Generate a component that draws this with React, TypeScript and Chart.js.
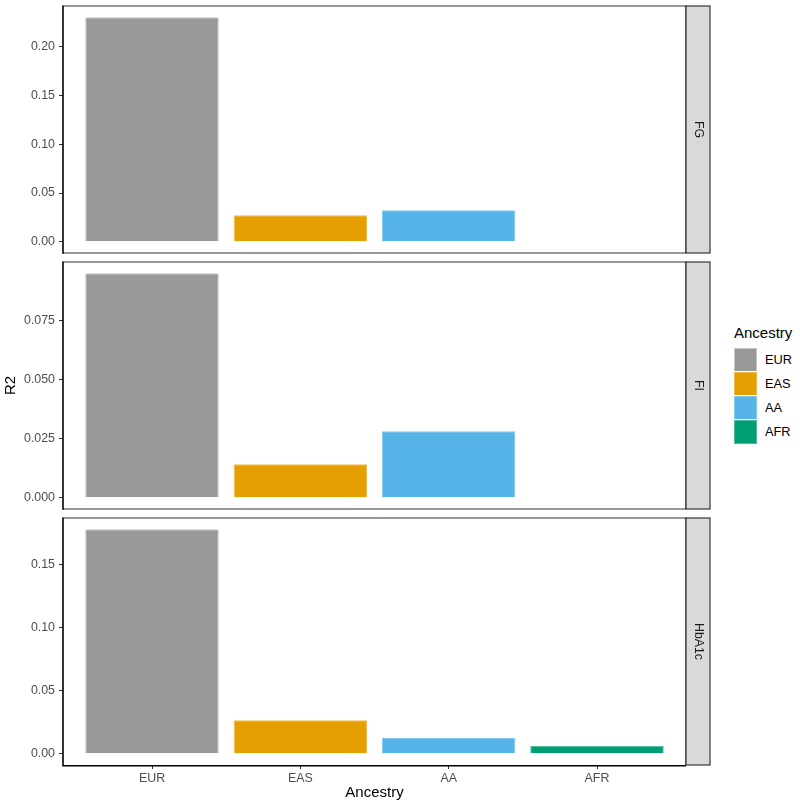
import React, { useEffect, useRef } from 'react';
import { Chart, registerables } from 'chart.js';

Chart.register(...registerables);

// ---- data ----
const CATEGORIES = ['EUR', 'EAS', 'AA', 'AFR'];
const FILL_COLORS = ['#999999', '#E69F00', '#56B4E9', '#009E73'];
const EDGE_COLORS = ['#C4C4C4', '#EEBB4D', '#86C9EF', '#4DBB9D'];

const FG_VALUES = [0.2302, 0.0271, 0.0322, null];
const FI_VALUES = [0.0951, 0.0142, 0.0282, null];
const HBA1C_VALUES = [0.1784, 0.0266, 0.0126, 0.0063];

const FG_TICKS = [0, 0.05, 0.1, 0.15, 0.2];
const FI_TICKS = [0, 0.025, 0.05, 0.075];
const HBA1C_TICKS = [0, 0.05, 0.1, 0.15];

const PANEL_LABELS = ['FG', 'FI', 'HbA1c'];
const LEGEND_TITLE = 'Ancestry';
const X_TITLE = 'Ancestry';
const Y_TITLE = 'R2';

const FONT = "'Liberation Sans', Arial, Helvetica, sans-serif";

type PanelSpec = {
  label: string;
  values: (number | null)[];
  ticks: number[];
  decimals: number;
  canvasTop: number;
  canvasHeight: number;
  padTop: number;
  padBottom: number;
  showX: boolean;
  showYTitle: boolean;
};

const PANELS: PanelSpec[] = [
  { label: PANEL_LABELS[0], values: FG_VALUES, ticks: FG_TICKS, decimals: 2, canvasTop: 0, canvasHeight: 257, padTop: 6, padBottom: 4, showX: false, showYTitle: false },
  { label: PANEL_LABELS[1], values: FI_VALUES, ticks: FI_TICKS, decimals: 3, canvasTop: 257, canvasHeight: 256, padTop: 5, padBottom: 4, showX: false, showYTitle: true },
  { label: PANEL_LABELS[2], values: HBA1C_VALUES, ticks: HBA1C_TICKS, decimals: 2, canvasTop: 513, canvasHeight: 295, padTop: 5, padBottom: 0, showX: true, showYTitle: false },
];

const CANVAS_WIDTH = 716;
const STRIP_WIDTH = 24;

const panelPlugin = {
  id: 'panelFrame',
  afterDraw(chart: any, _args: any, opts: any) {
    const { ctx, chartArea } = chart;
    const { left, right, top, bottom } = chartArea;
    ctx.save();
    // grey panel border
    ctx.strokeStyle = '#333333';
    ctx.lineWidth = 1.2;
    ctx.beginPath();
    ctx.moveTo(left, top);
    ctx.lineTo(right, top);
    ctx.lineTo(right, bottom);
    if (!opts.blackBottom) ctx.lineTo(left, bottom);
    ctx.stroke();
    // black axis lines
    ctx.strokeStyle = '#000000';
    ctx.lineWidth = 1.6;
    ctx.beginPath();
    ctx.moveTo(left, top - 0.6);
    ctx.lineTo(left, bottom + 0.8);
    if (opts.blackBottom) ctx.lineTo(right, bottom + 0.8);
    ctx.stroke();
    // strip
    ctx.fillStyle = '#D9D9D9';
    ctx.fillRect(right, top, STRIP_WIDTH, bottom - top);
    ctx.strokeStyle = '#333333';
    ctx.lineWidth = 1.2;
    ctx.strokeRect(right, top, STRIP_WIDTH, bottom - top);
    ctx.fillStyle = '#1A1A1A';
    ctx.font = `12.3px ${FONT}`;
    ctx.textAlign = 'center';
    ctx.textBaseline = 'middle';
    ctx.translate(right + STRIP_WIDTH / 2, (top + bottom) / 2);
    ctx.rotate(Math.PI / 2);
    ctx.fillText(opts.label, 0, 0);
    ctx.restore();
  },
};

function Panel({ spec }: { spec: PanelSpec }) {
  const ref = useRef<HTMLCanvasElement>(null);
  useEffect(() => {
    if (!ref.current) return;
    const idx = spec.values.map((v, i) => (v == null ? -1 : i)).filter((i) => i >= 0);
    const points = idx.map((i) => ({ x: i, y: spec.values[i] as number }));
    const maxV = Math.max(...points.map((p) => p.y));
    const yMin = -maxV * 0.05;
    const yMax = maxV * 1.05;
    const chart = new Chart(ref.current, {
      type: 'bar',
      data: {
        datasets: [
          {
            data: points as any,
            backgroundColor: idx.map((i) => FILL_COLORS[i]),
            borderColor: idx.map((i) => EDGE_COLORS[i]),
            borderWidth: 1,
            barPercentage: 0.9,
            categoryPercentage: 1,
            grouped: false,
          } as any,
        ],
      },
      options: {
        animation: false,
        responsive: false,
        devicePixelRatio: 1,
        events: [],
        layout: { padding: { left: 0, right: CANVAS_WIDTH - 686, top: spec.padTop, bottom: spec.padBottom } },
        plugins: {
          legend: { display: false },
          tooltip: { enabled: false },
          panelFrame: { label: spec.label, blackBottom: spec.showX },
        } as any,
        scales: {
          x: {
            type: 'linear',
            min: -0.6,
            max: 3.6,
            offset: false,
            display: spec.showX,
            afterBuildTicks: (s: any) => {
              s.ticks = CATEGORIES.map((_, i) => ({ value: i }));
            },
            afterFit: (s: any) => {
              s.height = spec.showX ? 43 : 0;
              s.paddingLeft = 0;
              s.paddingRight = 0;
            },
            grid: { offset: false, drawOnChartArea: false, drawTicks: true, tickLength: 4, tickColor: '#333333', tickWidth: 1 },
            border: { display: false },
            ticks: {
              callback: (v: any) => CATEGORIES[Math.round(Number(v))] ?? '',
              color: '#4D4D4D',
              font: { family: FONT, size: 12.4 },
              padding: 2,
              maxRotation: 0,
              autoSkip: false,
            },
            title: {
              display: true,
              text: X_TITLE,
              color: '#000000',
              font: { family: FONT, size: 15 },
              padding: { top: 0, bottom: 6 },
            },
          },
          y: {
            type: 'linear',
            min: yMin,
            max: yMax,
            afterBuildTicks: (s: any) => {
              s.ticks = spec.ticks.map((v) => ({ value: v }));
            },
            afterFit: (s: any) => {
              s.width = 63;
              s.paddingTop = 0;
              s.paddingBottom = 0;
            },
            grid: { drawOnChartArea: false, drawTicks: true, tickLength: 4, tickColor: '#333333', tickWidth: 1 },
            border: { display: false },
            ticks: {
              callback: (v: any) => Number(v).toFixed(spec.decimals),
              color: '#4D4D4D',
              font: { family: FONT, size: 12.4 },
              padding: 4,
              autoSkip: false,
            },
            title: {
              display: spec.showYTitle,
              text: Y_TITLE,
              color: '#000000',
              font: { family: FONT, size: 15 },
              padding: { top: 2, bottom: 0 },
            },
          },
        },
      } as any,
      plugins: [panelPlugin],
    });
    return () => chart.destroy();
  }, [spec]);
  return (
    <canvas
      ref={ref}
      width={CANVAS_WIDTH}
      height={spec.canvasHeight}
      style={{ position: 'absolute', left: 0, top: spec.canvasTop, width: CANVAS_WIDTH, height: spec.canvasHeight }}
    />
  );
}

function Legend() {
  const keyTop = 348;
  return (
    <div style={{ position: 'absolute', left: 734, top: 0, fontFamily: FONT }}>
      <div style={{ position: 'absolute', left: 0, top: 324, fontSize: 15, lineHeight: '18px', color: '#000', whiteSpace: 'nowrap' }}>
        {LEGEND_TITLE}
      </div>
      {CATEGORIES.map((c, i) => (
        <React.Fragment key={c}>
          <div
            style={{
              position: 'absolute',
              left: 0,
              top: keyTop + i * 24,
              width: 23,
              height: 24,
              boxSizing: 'border-box',
              background: FILL_COLORS[i],
              border: `1px solid ${EDGE_COLORS[i]}`,
              outline: '0.5px solid #ffffff',
            }}
          />
          <div
            style={{
              position: 'absolute',
              left: 31,
              top: keyTop + i * 24,
              height: 24,
              lineHeight: '24px',
              fontSize: 12.8,
              color: '#000',
              whiteSpace: 'nowrap',
            }}
          >
            {c}
          </div>
        </React.Fragment>
      ))}
    </div>
  );
}

export default function App() {
  return (
    <div style={{ position: 'absolute', left: 0, top: 0, width: 800, height: 808, background: '#ffffff', overflow: 'hidden' }}>
      {PANELS.map((p) => (
        <Panel key={p.label} spec={p} />
      ))}
      <Legend />
    </div>
  );
}
